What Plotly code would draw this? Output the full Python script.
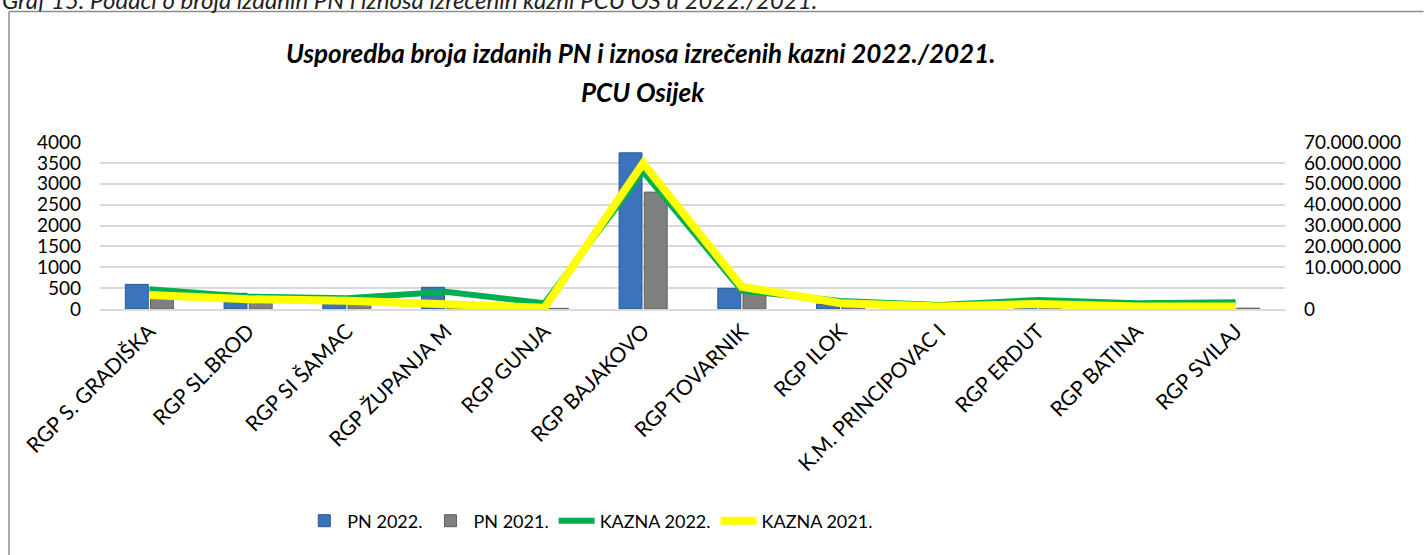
import plotly.graph_objects as go

categories = ["RGP S. GRADIŠKA", "RGP SL.BROD", "RGP SI ŠAMAC", "RGP ŽUPANJA M", "RGP GUNJA",
              "RGP BAJAKOVO", "RGP TOVARNIK", "RGP ILOK", "K.M. PRINCIPOVAC I", "RGP ERDUT",
              "RGP BATINA", "RGP SVILAJ"]
pn_2022 = [590, 375, 200, 520, 15, 3740, 495, 120, 10, 40, 10, 120]
pn_2021 = [250, 250, 200, 60, 15, 2800, 380, 70, 10, 50, 10, 20]
kazna_2022 = [8260000, 5160000, 4500000, 7250000, 2400000, 57500000, 7700000, 3350000, 1700000, 3800000, 2400000, 2800000]
kazna_2021 = [5870000, 4070000, 3500000, 2000000, 500000, 61100000, 9350000, 2400000, 1000000, 2100000, 1000000, 1000000]

left_ticks = [0, 500, 1000, 1500, 2000, 2500, 3000, 3500, 4000]
right_ticktext = ["0", "10.000.000", "20.000.000", "30.000.000", "40.000.000", "50.000.000", "60.000.000", "70.000.000"]
right_tickvals = [0, 17500000, 26250000, 35000000, 43750000, 52500000, 61250000, 70000000]

caption = "Graf 15. Podaci o broja izdanih PN i iznosa izrečenih kazni PCU OS u 2022./2021."
title_1 = "Usporedba broja izdanih PN i iznosa izrečenih kazni 2022./2021."
title_2 = "PCU Osijek"

W, H = 1424, 555
L, R, T, B = 100, 138.5, 142, 246
PW, PH = W - L - R, H - T - B

def px(x):
    return (x - L) / PW

def py(y):
    return (H - B - y) / PH

FONT = "Lato"

fig = go.Figure()
fig.add_trace(go.Bar(x=categories, y=pn_2022, name="PN 2022.",
                     marker=dict(color="#3b74bd", line=dict(color="#2a568f", width=1))))
fig.add_trace(go.Bar(x=categories, y=pn_2021, name="PN 2021.",
                     marker=dict(color="#808080", line=dict(color="#5e5e5e", width=1))))
fig.add_trace(go.Scatter(x=categories, y=kazna_2022, name="KAZNA 2022.", yaxis="y2", mode="lines",
                         line=dict(color="#00b050", width=6)))
fig.add_trace(go.Scatter(x=categories, y=kazna_2021, name="KAZNA 2021.", yaxis="y2", mode="lines",
                         line=dict(color="#ffff00", width=8)))

frame_color = "#8c8c8c"

fig.update_layout(
    width=W, height=H,
    margin=dict(l=L, r=R, t=T, b=B, autoexpand=False),
    paper_bgcolor="white", plot_bgcolor="white",
    font=dict(family=FONT, size=19, color="#000000"),
    barmode="group", bargap=0.49, bargroupgap=0.09,
    xaxis=dict(tickangle=-45, showgrid=False, showline=True, linecolor="#d9d9d9", linewidth=1.5,
               ticks="", tickfont=dict(size=21, family=FONT)),
    yaxis=dict(range=[0, 4000], tickvals=left_ticks, showgrid=True, gridcolor="#d9d9d9", gridwidth=1.5,
               zeroline=False, ticks="", ticklabelstandoff=18, tickfont=dict(size=19, family=FONT)),
    yaxis2=dict(range=[0, 70000000], overlaying="y", side="right", tickvals=right_tickvals,
                ticktext=right_ticktext, showgrid=False, zeroline=False, ticks="",
                ticklabelstandoff=18, tickfont=dict(size=19, family=FONT)),
    showlegend=True,
    legend=dict(orientation="h", x=px(590), xanchor="center", y=py(521), yanchor="middle",
                font=dict(size=18, family=FONT), traceorder="normal", itemwidth=36,
                bgcolor="rgba(0,0,0,0)"),
    annotations=[
        dict(text="<i>" + caption + "</i>", xref="paper", yref="paper", x=px(0), y=py(-1),
             xanchor="left", yanchor="middle", showarrow=False,
             font=dict(size=24, family=FONT, color="#222222")),
        dict(text="<b><i>" + title_1 + "</i></b>", xref="paper", yref="paper", x=px(641), y=py(53),
             xanchor="center", yanchor="middle", showarrow=False, font=dict(size=26, family=FONT)),
        dict(text="<b><i>" + title_2 + "</i></b>", xref="paper", yref="paper", x=px(643), y=py(92),
             xanchor="center", yanchor="middle", showarrow=False, font=dict(size=26, family=FONT)),
    ],
    shapes=[
        dict(type="line", xref="paper", yref="paper", x0=px(9), x1=px(9), y0=py(555), y1=py(11.5),
             line=dict(color=frame_color, width=1.5), layer="below"),
        dict(type="line", xref="paper", yref="paper", x0=px(9), x1=px(1424), y0=py(11.5), y1=py(11.5),
             line=dict(color=frame_color, width=1.5), layer="below"),
    ],
)

fig.write_html("out.html", config={"displayModeBar": False},
               post_script=("document.documentElement.style.overflow='hidden';"
                            "document.body.style.margin='0';document.body.style.overflow='hidden';"))
